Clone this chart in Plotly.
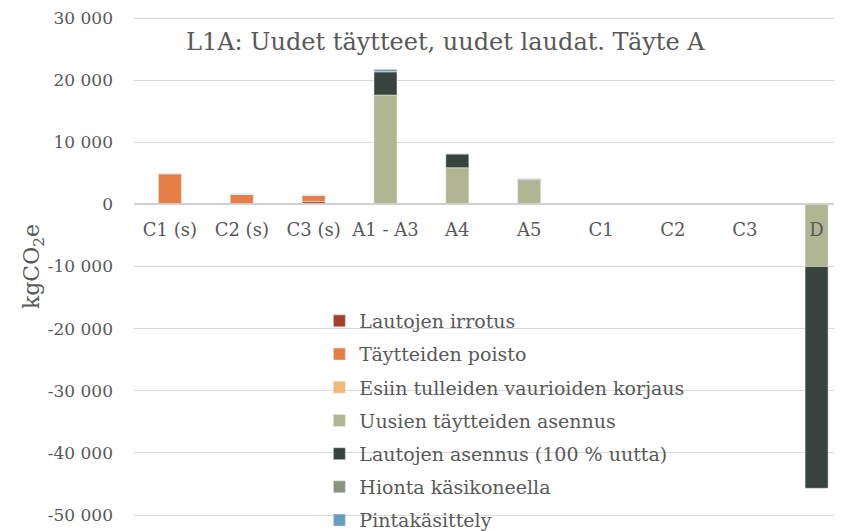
import plotly.graph_objects as go

categories = ["C1 (s)", "C2 (s)", "C3 (s)", "A1 - A3", "A4", "A5", "C1", "C2", "C3", "D"]

lautojen_irrotus = [0, 0, 450, 0, 0, 0, 0, 0, 0, 0]
taytteiden_poisto = [4950, 1650, 1050, 0, 0, 0, 0, 0, 0, 0]
vaurioiden_korjaus = [0, 0, 0, 0, 0, 0, 0, 0, 0, 0]
uusien_taytteiden_asennus = [0, 0, 0, 17600, 5900, 3990, 0, 0, 0, -10000]
lautojen_asennus = [0, 0, 0, 3760, 2250, 0, 0, 0, 0, -35700]
hionta = [0, 0, 0, 0, 0, 150, 0, 0, 0, 0]
pintakasittely = [0, 0, 0, 370, 0, 0, 0, 0, 0, 0]

series_names = [
    "Lautojen irrotus",
    "Täytteiden poisto",
    "Esiin tulleiden vaurioiden korjaus",
    "Uusien täytteiden asennus",
    "Lautojen asennus (100 % uutta)",
    "Hionta käsikoneella",
    "Pintakäsittely",
]
series_values = [lautojen_irrotus, taytteiden_poisto, vaurioiden_korjaus,
                 uusien_taytteiden_asennus, lautojen_asennus, hionta, pintakasittely]
series_colors = ["#A63F2E", "#E67E45", "#F4B77A", "#B2B592", "#39433D", "#8C9282", "#6A9CC0"]

y_tickvals = [30000, 20000, 10000, 0, -10000, -20000, -30000, -40000, -50000]
y_ticktext = ["30 000", "20 000", "10 000", "0", "-10 000", "-20 000", "-30 000", "-40 000", "-50 000"]

FONT = "DejaVu Serif"
GRAY = "#595959"

fig = go.Figure()
for i, (name, vals, col) in enumerate(zip(series_names, series_values, series_colors)):
    fig.add_trace(go.Bar(
        x=categories, y=vals, name=name, marker_color=col,
        legendgroup="g%d" % i,
    ))

# page shows the figure offset by 8px (body margin)
W, H = 842, 531
PAD = 4                      # extra px of plot area beyond the first/last gridline
UNIT = 10000 / 62.1          # data units per px
ml, mr, mt, mb = 125.5, 0, 10 - PAD, 24 - PAD
plot_w = W - ml - mr
plot_h = H - mt - mb
y_lo = -50000 - PAD * UNIT
y_hi = 30000 + PAD * UNIT

fig.update_layout(
    width=W, height=H,
    margin=dict(l=ml, r=mr, t=mt, b=mb, autoexpand=False),
    barmode="relative",
    bargap=0.68,
    plot_bgcolor="white",
    paper_bgcolor="white",
    font=dict(family=FONT, color=GRAY, size=18),
    title=dict(
        text="L1A: Uudet täytteet, uudet laudat. Täyte A",
        font=dict(family=FONT, size=24, color=GRAY),
        x=(437 - ml) / plot_w, xref="paper", xanchor="center",
        y=1 - 34 / H, yref="container", yanchor="middle",
    ),
    legend=dict(
        x=(311 - ml) / plot_w, xanchor="left",
        y=(H - mb - 294) / plot_h, yanchor="top",
        bgcolor="rgba(0,0,0,0)",
        font=dict(family=FONT, size=19, color=GRAY),
        traceorder="grouped",
        tracegroupgap=5.5,
    ),
    xaxis=dict(
        range=[-0.5, 9.465],
        anchor="free",
        position=(0 - y_lo) / (y_hi - y_lo),
        showline=True, linecolor="#d0d0d0", linewidth=1.5,
        showgrid=False,
        ticks="",
        ticklabelstandoff=9,
        tickfont=dict(family=FONT, size=18, color=GRAY),
    ),
    yaxis=dict(
        range=[y_lo, y_hi],
        tickvals=y_tickvals, ticktext=y_ticktext,
        showgrid=True, gridcolor="#d9d9d9", gridwidth=1,
        zeroline=False,
        ticks="",
        ticklabelstandoff=20,
        ticklabeloverflow="allow",
        tickfont=dict(family=FONT, size=17, color=GRAY),
        title=dict(text="kgCO<sub>2</sub>e", font=dict(family=FONT, size=22, color=GRAY), standoff=0),
    ),
)

fig.write_html("out.html")
